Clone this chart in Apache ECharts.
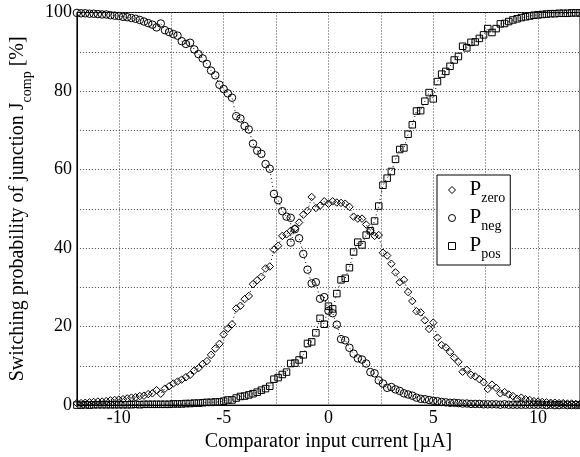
<!DOCTYPE html>
<html>
<head>
<meta charset="utf-8">
<script src="https://cdn.jsdelivr.net/npm/echarts@6/dist/echarts.min.js"></script>
<style>
  html, body { margin: 0; padding: 0; background: #fff; }
  #chart { width: 580px; height: 457px; }
</style>
</head>
<body>
<div id="chart"></div>
<script>
// Comparator input current [µA], one sweep point every 0.2 µA
const current = [-12,-11.8,-11.6,-11.4,-11.2,-11,-10.8,-10.6,-10.4,-10.2,-10,
  -9.8,-9.6,-9.4,-9.2,-9,-8.8,-8.6,-8.4,-8.2,-8,
  -7.8,-7.6,-7.4,-7.2,-7,-6.8,-6.6,-6.4,-6.2,-6,
  -5.8,-5.6,-5.4,-5.2,-5,-4.8,-4.6,-4.4,-4.2,-4,
  -3.8,-3.6,-3.4,-3.2,-3,-2.8,-2.6,-2.4,-2.2,-2,
  -1.8,-1.6,-1.4,-1.2,-1,-0.8,-0.6,-0.4,-0.2,0,
  0.2,0.4,0.6,0.8,1,1.2,1.4,1.6,1.8,2,
  2.2,2.4,2.6,2.8,3,3.2,3.4,3.6,3.8,4,
  4.2,4.4,4.6,4.8,5,5.2,5.4,5.6,5.8,6,
  6.2,6.4,6.6,6.8,7,7.2,7.4,7.6,7.8,8,
  8.2,8.4,8.6,8.8,9,9.2,9.4,9.6,9.8,10,
  10.2,10.4,10.6,10.8,11,11.2,11.4,11.6,11.8,12];

// Switching probabilities [%]
const pZero = [0.5,0.5,0.6,0.7,0.8,0.9,0.9,1.0,1.2,1.3,1.4,
  1.5,1.7,1.9,2.0,2.3,2.4,2.8,3.0,3.8,2.9,
  4.2,4.8,5.5,6.0,6.5,7.1,7.7,8.8,9.4,10.5,
  11.2,12.8,14.4,15.6,18.0,19.5,20.6,24.6,25.3,27.0,
  27.8,30.8,31.8,32.7,34.8,35.3,39.6,40.6,43.1,43.5,
  44.4,45.0,46.5,48.5,49.5,53.0,50.2,50.8,51.9,51.3,
  51.9,51.6,51.5,51.3,50.5,48.0,47.5,47.5,46.0,44.4,
  43.1,43.3,38.8,38.1,36.0,33.8,31.3,31.9,28.8,26.5,
  23.9,23.6,21.6,19.4,21.0,17.2,15.3,14.7,13.5,12.1,
  11.0,8.5,9.0,7.7,7.3,6.6,5.8,4.1,5.2,4.4,
  3.0,3.3,2.7,2.3,1.6,1.9,1.5,1.3,1.0,0.9,
  0.8,0.7,0.6,0.6,0.5,0.5,0.4,0.4,0.3,0.3];

const pNeg = [99.9,99.8,99.8,99.7,99.7,99.6,99.5,99.5,99.3,99.2,99.1,
  98.9,98.8,98.6,98.4,98.1,97.7,97.3,96.9,96.2,97.2,
  95.5,95.0,94.5,94.1,92.7,92.0,92.3,90.6,89.4,88.3,
  86.9,85.2,84.0,81.6,80.5,79.4,78.3,73.6,73.0,71.1,
  70.2,66.6,64.8,64.0,61.4,60.2,53.8,52.2,49.4,48.0,
  47.7,44.8,42.5,38.5,34.5,31.0,31.3,27.1,27.5,24.0,
  23.4,20.5,16.8,16.5,14.6,13.1,11.9,11.6,10.6,8.4,
  8.1,6.3,5.5,4.4,4.6,4.0,3.6,3.0,2.7,2.4,
  1.9,1.6,1.5,1.3,1.1,1.0,0.8,0.7,0.6,0.6,
  0.5,0.4,0.4,0.3,0.3,0.3,0.2,0.2,0.2,0.2,
  0.1,0.2,0.1,0.1,0.1,0.1,0.1,0.1,0.1,0.1,
  0.1,0.0,0.1,0.0,0.0,0.1,0.0,0.0,0.0,0.0];
// repeated measurement of P_neg
const pNegRepeat = [[-1.8, 41.4]];

const pPos = [0.0,0.0,0.1,0.0,0.1,0.1,0.1,0.1,0.1,0.1,0.1,
  0.1,0.1,0.1,0.2,0.1,0.2,0.2,0.2,0.2,0.2,
  0.2,0.2,0.3,0.3,0.3,0.4,0.4,0.5,0.5,0.6,
  0.7,0.7,0.8,0.8,1.0,1.3,1.3,1.8,2.2,2.3,
  2.6,2.9,3.3,3.8,4.2,4.8,6.6,7.0,7.8,8.4,
  10.6,10.7,11.5,12.8,15.7,16.1,18.4,22.1,20.6,25.2,
  24.5,28.4,31.9,32.3,35.0,39.0,41.5,40.8,43.3,44.4,
  46.9,50.7,56.0,57.8,59.5,62.6,65.1,65.5,69.0,71.4,
  74.9,75.0,77.4,79.6,78.0,82.4,84.3,85.0,86.3,87.9,
  88.8,91.4,91.0,92.4,92.5,93.4,94.3,95.9,94.9,95.9,
  97.1,97.2,97.7,98.1,98.4,98.7,98.9,99.1,99.3,99.4,
  99.5,99.6,99.7,99.7,99.8,99.8,99.8,99.9,99.9,99.9];

const xLabelValues = [-10, -5, 0, 5, 10];
const xGridValues = [-10, -7.5, -5, -2.5, 0, 2.5, 5, 7.5, 10];

const FONT = 'Liberation Serif';

function pairs(ys) {
  return current.map((x, i) => [x, ys[i]]);
}
function withRepeats(list, extra) {
  const out = list.slice();
  extra.forEach(p => {
    const k = out.findIndex(q => q[0] === p[0]);
    out.splice(k + 1, 0, p);
  });
  return out;
}

function seriesOf(name, symbol, size, data) {
  return {
    name: name,
    type: 'line',
    data: data,
    symbol: symbol,
    symbolSize: size,
    showAllSymbol: true,
    clip: false,
    lineStyle: { color: '#000', width: 1, type: [1, 3] },
    itemStyle: { color: 'rgba(0,0,0,0)', borderColor: '#000', borderWidth: 1 },
    emphasis: { disabled: true }
  };
}

const chart = echarts.init(document.getElementById('chart'), null, { renderer: 'canvas' });

chart.setOption({
  animation: false,
  backgroundColor: '#fff',
  textStyle: { fontFamily: FONT },
  grid: {
    left: 76.7, right: -3, top: 12.5, bottom: 44.5,
    show: true, borderColor: '#000', borderWidth: 1
  },
  xAxis: {
    type: 'value', min: -12, max: 12,
    name: 'Comparator input current [µA]',
    nameLocation: 'middle', nameGap: 25,
    nameTextStyle: { fontFamily: FONT, fontSize: 20, color: '#000' },
    axisLine: { onZero: false, lineStyle: { color: '#000', width: 1 } },
    axisTick: { show: false, customValues: xGridValues },
    axisLabel: { customValues: xLabelValues, fontFamily: FONT, fontSize: 18, color: '#000', margin: 4 },
    splitLine: { show: true, lineStyle: { color: '#444', width: 1, type: [1, 2] } }
  },
  yAxis: {
    type: 'value', min: 0, max: 100, interval: 10,
    name: '{a|Switching probability of junction J}{b|comp}{a| [%]}',
    nameLocation: 'middle', nameGap: 45, nameRotate: 90,
    nameTextStyle: {
      color: '#000',
      rich: {
        a: { fontFamily: FONT, fontSize: 20, lineHeight: 22, verticalAlign: 'top', color: '#000' },
        b: { fontFamily: FONT, fontSize: 14, lineHeight: 14, verticalAlign: 'top', padding: [12, 0, 0, 0], color: '#000' }
      }
    },
    axisLine: { show: true, onZero: false, lineStyle: { color: '#000', width: 1 } },
    axisTick: { show: false },
    axisLabel: {
      fontFamily: FONT, fontSize: 18, color: '#000', margin: 5,
      formatter: v => (v % 20 === 0 ? String(v) : '')
    },
    splitLine: { show: true, lineStyle: { color: '#444', width: 1, type: [1, 2] } }
  },
  legend: {
    left: 437, top: 175,
    orient: 'vertical',
    backgroundColor: '#fff',
    borderColor: '#000', borderWidth: 1,
    padding: [4, 5, 4, 11],
    itemGap: 2,
    itemWidth: 7, itemHeight: 7,
    selectedMode: false,
    data: [
      { name: 'zero', icon: 'diamond' },
      { name: 'neg', icon: 'circle' },
      { name: 'pos', icon: 'rect' }
    ],
    itemStyle: { color: 'rgba(0,0,0,0)', borderColor: '#000', borderWidth: 1 },
    formatter: name => '{p|P}{s|' + name + '}',
    textStyle: {
      rich: {
        p: { fontFamily: FONT, fontSize: 21, lineHeight: 22, verticalAlign: 'top', color: '#000', padding: [0, 0, 0, 9] },
        s: { fontFamily: FONT, fontSize: 14, lineHeight: 14, verticalAlign: 'top', color: '#000', padding: [12, 0, 0, 0] }
      }
    }
  },
  series: [
    seriesOf('zero', 'diamond', 7.5, pairs(pZero)),
    seriesOf('neg', 'circle', 7.5, withRepeats(pairs(pNeg), pNegRepeat)),
    seriesOf('pos', 'rect', 6.5, pairs(pPos))
  ]
});
</script>
</body>
</html>
